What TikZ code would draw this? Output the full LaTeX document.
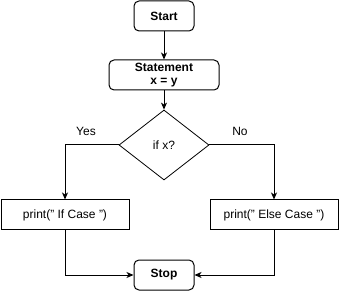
\documentclass[tikz,border=0pt]{standalone}
\usepackage{fontspec}
\setmainfont{Liberation Sans}
\usetikzlibrary{positioning,shapes.geometric,arrows.meta}

\begin{document}
\begin{tikzpicture}[x=1pt, y=-1pt,
  terminal/.style={draw, line width=1pt, rounded corners=5pt, minimum width=#1, minimum height=30pt, inner sep=1pt, align=center, font=\fontsize{12}{13.5}\selectfont\bfseries},
  decision/.style={draw, line width=0.8pt, diamond, minimum width=90pt, minimum height=70pt, inner sep=0pt, font=\fontsize{12}{14}\selectfont},
  printbox/.style={draw, line width=1pt, minimum width=128pt, minimum height=30pt, inner sep=1pt, font=\fontsize{12}{14}\selectfont},
  branch/.style={font=\fontsize{12}{14}\selectfont},
  flow/.style={draw, line width=1pt, -{Stealth[length=7pt, width=6pt, inset=2pt]}}
]
  \useasboundingbox (0,0) rectangle (340,291);

  \node[terminal=60pt] (start) at (164,16) {Start};
  \node[terminal=110pt] (stmt) at (164,75) {Statement\\x = y};
  \node[decision] (cond) at (164,145) {if x?};
  \node[printbox] (ifcase) at (65,215) {print(" If Case ")};
  \node[printbox] (elsecase) at (274,215) {print(" Else Case ")};
  \node[terminal=60pt] (stop) at (164,275) {Stop};

  \node[branch] (yes) at (86,131) {Yes};
  \node[branch] (no) at (240,131) {No};

  \draw[flow] (start) -- (stmt);
  \draw[flow] (stmt) -- (cond);
  \draw[flow] (cond.west) -| (ifcase.north);
  \draw[flow] (cond.east) -| (elsecase.north);
  \draw[flow] (ifcase.south) |- (stop.west);
  \draw[flow] (elsecase.south) |- (stop.east);
\end{tikzpicture}
\end{document}
